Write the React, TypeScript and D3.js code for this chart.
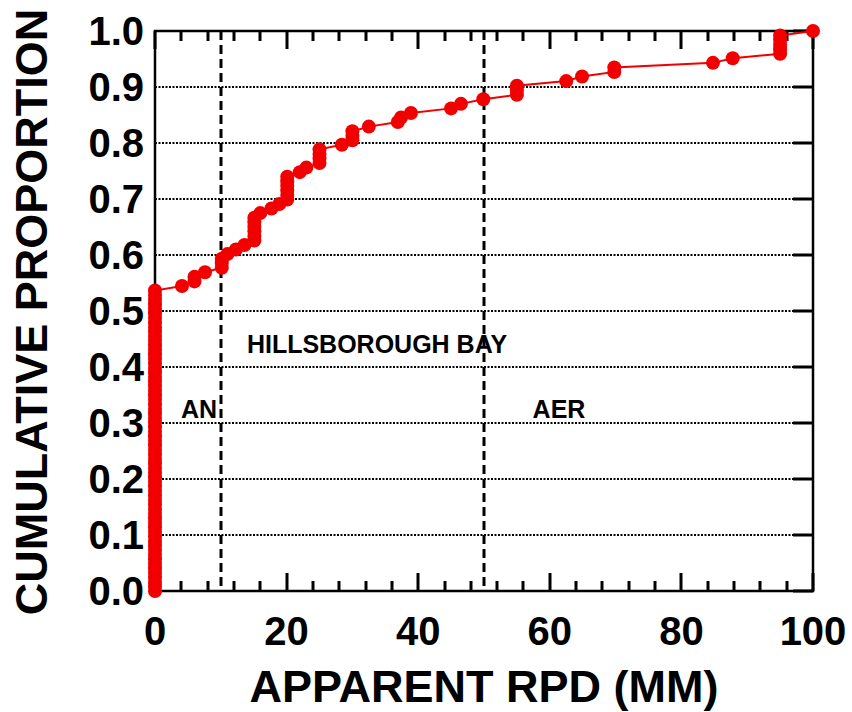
import React from "react";
import * as d3 from "d3";

// Distinct apparent RPD values (mm) and number of stations at each
const rpdValues = [0, 4.1, 6, 7.6, 10.15, 11, 12.3, 13.6, 15.1, 16, 17.7, 18.9, 20.1, 22, 23, 25, 28.4, 30, 32.5, 36.9, 37.4, 38.9, 45, 46.5, 49.9, 55, 62.5, 64.9, 69.8, 84.8, 87.8, 95, 100];
const stationCounts = [67, 1, 2, 1, 3, 1, 1, 1, 6, 1, 1, 1, 6, 1, 1, 4, 1, 3, 1, 1, 1, 1, 1, 1, 1, 3, 1, 1, 2, 1, 1, 5, 1];
const xTickLabels = [0, 20, 40, 60, 80, 100];
const yTickLabels = ["0.0", "0.1", "0.2", "0.3", "0.4", "0.5", "0.6", "0.7", "0.8", "0.9", "1.0"];
const boundaries = [10, 50];

const W = 852, H = 712;
const L = 155, R = 813, T = 31, B = 591;
const FONT = "'Liberation Sans', Arial, Helvetica, sans-serif";
const RED = "#f20000";

export default function App() {
  const x = d3.scaleLinear().domain([0, 100]).range([L, R]);
  const y = d3.scaleLinear().domain([0, 1]).range([B, T]);
  const xr = (v: number) => Math.round(x(v));

  // cumulative proportion of stations (ranked)
  const obs: number[] = [];
  rpdValues.forEach((v, i) => { for (let k = 0; k < stationCounts[i]; k++) obs.push(v); });
  const nm1 = obs.length - 1;
  const pts = obs.map((v, i) => ({ rpd: v, p: i / nm1 }));

  const line = d3.line<{ rpd: number; p: number }>().x(d => x(d.rpd)).y(d => y(d.p));

  const minorTicks = d3.range(0, 101, 4);
  const yTicks = yTickLabels.map(s => +s);

  const tp = d3.path();
  minorTicks.forEach(t => {
    const len = t % 20 === 0 ? 18 : 10;
    const xx = xr(t);
    tp.moveTo(xx, B); tp.lineTo(xx, B - len);
    tp.moveTo(xx, T); tp.lineTo(xx, T + len);
  });
  yTicks.forEach(t => {
    tp.moveTo(R - 20, y(t)); tp.lineTo(R, y(t));
  });
  const tickPath = tp.toString();

  return (
    <svg width={W} height={H} style={{ position: "absolute", left: 0, top: 0, background: "#fff" }}>
      {/* horizontal dotted grid */}
      {yTicks.filter(t => t > 0 && t < 1).map(t => (
        <line key={"g" + t} x1={L} x2={R - 20} y1={y(t)} y2={y(t)} stroke="#000" strokeWidth={2} strokeDasharray="2,1.5" />
      ))}
      {/* boundary dashed lines */}
      {boundaries.map(b => (
        <line key={"b" + b} x1={xr(b)} x2={xr(b)} y1={T} y2={B} stroke="#000" strokeWidth={3} strokeDasharray="9,5" />
      ))}
      {/* frame */}
      <rect x={L} y={T} width={R - L} height={B - T} fill="none" stroke="#000" strokeWidth={2.5} />
      {/* ticks */}
      <path d={tickPath} fill="none" stroke="#000000" strokeWidth={3} />

      {/* annotations */}
      <text x={377} y={353} fontFamily={FONT} fontWeight="bold" fontSize={25} textAnchor="middle">HILLSBOROUGH BAY</text>
      <text x={199} y={418} fontFamily={FONT} fontWeight="bold" fontSize={25} textAnchor="middle">AN</text>
      <text x={559} y={418} fontFamily={FONT} fontWeight="bold" fontSize={25} textAnchor="middle">AER</text>

      {/* data */}
      <path d={line(pts) || ""} fill="none" stroke={RED} strokeWidth={2} />
      {pts.map((d, i) => (
        <circle key={i} cx={x(d.rpd)} cy={y(d.p)} r={7} fill={RED} />
      ))}

      {/* tick labels */}
      {yTickLabels.map((s, i) => (
        <text key={"yl" + s} x={144} y={y(yTicks[i])} dy="0.36em" fontFamily={FONT} fontWeight="bold" fontSize={40} textAnchor="end">{s}</text>
      ))}
      {xTickLabels.map(t => (
        <text key={"xl" + t} x={x(t)} y={645} fontFamily={FONT} fontWeight="bold" fontSize={40} textAnchor="middle">{t}</text>
      ))}

      {/* axis titles */}
      <text x={484} y={702} fontFamily={FONT} fontWeight="bold" fontSize={45} textAnchor="middle">APPARENT RPD (MM)</text>
      <text transform={`translate(47,312) rotate(-90)`} fontFamily={FONT} fontWeight="bold" fontSize={45} textAnchor="middle">CUMULATIVE PROPORTION</text>
    </svg>
  );
}
